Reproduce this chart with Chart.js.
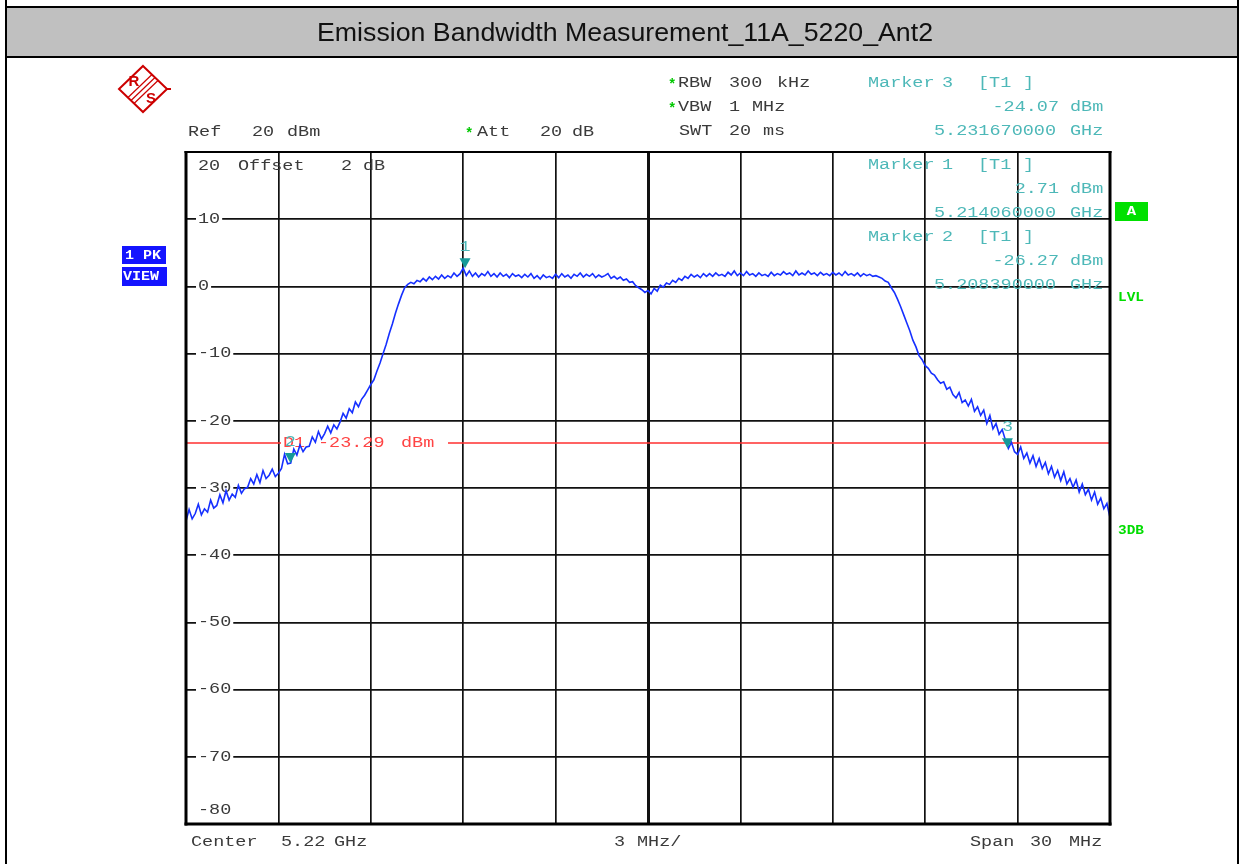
<!DOCTYPE html>
<html>
<head>
<meta charset="utf-8">
<script src="https://cdn.jsdelivr.net/npm/chart.js@4.4.1/dist/chart.umd.min.js"></script>
<style>
html,body{margin:0;padding:0;background:#fff;}
canvas{display:block;}
</style>
</head>
<body>
<canvas id="c" width="1244" height="864"></canvas>
<script>
// ---------------- data ----------------
const TITLE = 'Emission Bandwidth Measurement_11A_5220_Ant2';
const CENTER_GHZ = 5.22;
const SPAN_MHZ = 30;
const SWEEP_START_MHZ = -15;   // offset from centre
const SWEEP_STEP_MHZ = 0.1;

// trace level (dBm) for each sweep point (1 row = 1 MHz)
const traceLevels = [
 -34.9,-33.2,-34.6,-33.8,-32.4,-34.0,-33.1,-33.6,-31.8,-33.0,
 -32.6,-31.0,-32.2,-30.4,-31.8,-30.9,-31.4,-29.6,-30.8,-30.1,
 -29.9,-28.6,-29.4,-28.0,-29.2,-27.4,-28.6,-28.1,-27.2,-28.3,
 -27.8,-27.1,-25.0,-26.4,-26.3,-24.2,-25.1,-23.6,-24.6,-23.9,
 -23.8,-22.4,-23.2,-21.6,-22.7,-21.9,-20.8,-21.8,-20.6,-21.2,
 -20.2,-18.9,-19.6,-18.2,-18.8,-17.2,-17.9,-16.8,-16.2,-15.4,
 -14.6,-13.9,-12.6,-11.4,-10.0,-8.6,-7.0,-5.6,-4.0,-2.6,
 -1.3,-0.2,0.3,0.6,0.4,0.9,0.7,1.2,0.8,1.4,
 1.0,1.5,1.1,1.7,1.2,1.6,1.3,2.0,1.5,1.9,
 2.71,1.6,2.3,1.5,2.0,1.4,1.9,1.6,2.2,1.5,
 1.9,1.4,2.0,1.5,1.8,1.3,1.9,1.5,1.7,1.3,
 1.8,1.4,1.9,1.2,1.6,1.1,1.7,1.3,1.5,1.2,
 1.8,1.3,1.9,1.4,1.7,1.2,1.8,1.5,2.0,1.4,
 1.8,1.5,1.9,1.3,1.7,1.4,1.6,1.9,1.2,1.5,
 1.1,1.4,0.9,1.1,0.6,0.7,0.1,-0.2,-0.5,-0.9,
 -0.6,-1.1,-0.3,-0.7,0.2,-0.1,0.5,0.3,0.9,0.6,
 1.2,0.9,1.5,1.2,1.8,1.4,1.7,1.3,1.9,1.5,
 1.9,1.5,2.0,1.6,1.8,1.5,2.1,1.7,2.3,1.6,
 2.0,1.6,2.2,1.7,1.9,1.5,2.0,1.6,1.8,1.5,
 2.1,1.6,1.9,1.7,2.2,1.8,2.0,1.6,2.3,1.7,
 2.0,1.7,2.3,1.8,2.0,1.6,2.1,1.7,1.9,1.6,
 2.1,1.7,2.0,1.6,2.2,1.7,1.9,1.6,2.0,1.5,
 1.9,1.6,1.8,1.5,1.6,1.4,1.2,0.8,0.6,-0.2,
 -0.9,-1.9,-3.0,-4.2,-5.4,-6.6,-8.0,-9.0,-10.3,-10.9,
 -11.8,-12.2,-12.9,-13.2,-13.9,-14.4,-14.2,-15.3,-15.0,-16.1,
 -16.6,-15.8,-17.3,-16.9,-17.8,-16.8,-18.6,-17.9,-19.2,-18.4,
 -20.4,-19.2,-21.2,-20.4,-22.0,-21.3,-22.8,-24.1,-23.2,-24.6,
 -25.0,-23.9,-25.6,-24.8,-26.3,-25.2,-26.8,-25.6,-27.1,-26.2,
 -27.9,-26.8,-28.4,-27.4,-28.9,-27.6,-29.4,-28.6,-29.9,-28.8,
 -30.6,-29.4,-31.0,-30.2,-31.8,-30.6,-32.4,-31.5,-33.1,-32.3,
 -34.4
];

const xTickValues = [-15,-12,-9,-6,-3,0,3,6,9,12,15];
const yTickValues = [20,10,0,-10,-20,-30,-40,-50,-60,-70,-80];
const yLabelValues = [10,0,-10,-20,-30,-40,-50,-60,-70,-80];
const yTickLabels = ['10','0','-10','-20','-30','-40','-50','-60','-70','-80'];

const markerNames  = ['1','2','3'];
const markerFreqGHz = [5.214060000, 5.208390000, 5.231670000];
const markerLevels  = [2.71, -26.27, -24.07];
const displayLineLevel = -23.29;

// ---------------- drawing helpers ----------------
const MONO = '14px "Liberation Mono", "DejaVu Sans Mono", monospace';
const SX = 1.32;
const GREY = '#3a3a3a';
const TEAL = '#4db8b8';
const TEAL_DARK = '#159a9a';
const GREEN = '#00dd00';

function txt(ctx, s, x, y, color, o) {
  o = o || {};
  ctx.save();
  ctx.font = o.font || MONO;
  ctx.fillStyle = color;
  ctx.textBaseline = 'middle';
  ctx.textAlign = o.align || 'left';
  ctx.translate(x, y);
  ctx.scale(o.sx || SX, 1);
  ctx.fillText(s, 0, 0);
  ctx.restore();
}

function star(ctx, x, y) {
  txt(ctx, '*', x, y + 2, '#00c800', {font: 'bold 14px "Liberation Mono"', sx: 1});
}

function markerBlock(ctx, i, y0) {
  txt(ctx, 'Marker', 868, y0, TEAL);
  txt(ctx, markerNames[i], 942, y0, TEAL);
  txt(ctx, '[T1', 978, y0, TEAL);
  txt(ctx, ']', 1023, y0, TEAL);
  txt(ctx, markerLevels[i].toFixed(2), 1059, y0 + 24, TEAL, {align: 'right'});
  txt(ctx, 'dBm', 1070, y0 + 24, TEAL);
  txt(ctx, markerFreqGHz[i].toFixed(9), 1056, y0 + 48, TEAL, {align: 'right'});
  txt(ctx, 'GHz', 1070, y0 + 48, TEAL);
}

const annot = {
  id: 'annot',
  beforeDraw(chart) {
    const ctx = chart.ctx;
    ctx.save();
    ctx.fillStyle = '#fff';
    ctx.fillRect(0, 0, chart.width, chart.height);
    // outer frame and title bar
    ctx.fillStyle = '#000';
    ctx.fillRect(5, 0, 2, 864);
    ctx.fillRect(1237, 0, 2, 864);
    ctx.fillRect(5, 6, 1234, 2);
    ctx.fillStyle = '#c0c0c0';
    ctx.fillRect(7, 8, 1230, 48);
    ctx.fillStyle = '#000';
    ctx.fillRect(5, 56, 1234, 2);
    // title
    ctx.font = '25px "Liberation Sans", Arial, sans-serif';
    const w = ctx.measureText(TITLE).width;
    ctx.fillStyle = '#111';
    ctx.textBaseline = 'middle';
    ctx.textAlign = 'center';
    ctx.save();
    ctx.translate(625, 34);
    ctx.scale(616 / w, 1);
    ctx.fillText(TITLE, 0, 0);
    ctx.restore();

    // R&S logo
    ctx.strokeStyle = '#cc0000';
    ctx.fillStyle = '#cc0000';
    ctx.lineWidth = 2;
    const cx = 143, cy = 89, hw = 24, hh = 23;
    ctx.beginPath();
    ctx.moveTo(cx, cy - hh); ctx.lineTo(cx + hw, cy); ctx.lineTo(cx, cy + hh); ctx.lineTo(cx - hw, cy); ctx.closePath();
    ctx.stroke();
    ctx.beginPath(); ctx.moveTo(cx + hw, cy); ctx.lineTo(cx + hw + 4, cy); ctx.stroke();
    ctx.lineWidth = 1.2;
    for (const d of [-3, 0, 3]) {
      ctx.beginPath();
      ctx.moveTo(cx + hw / 2 + d, cy - hh / 2 + d);
      ctx.lineTo(cx - hw / 2 + d, cy + hh / 2 + d);
      ctx.stroke();
    }
    ctx.font = 'bold 15px "Liberation Sans", Arial';
    ctx.textAlign = 'center';
    ctx.fillText('R', cx - 9, cy - 7);
    ctx.fillText('S', cx + 8, cy + 10);

    // header texts
    txt(ctx, 'Ref', 188, 132, GREY);
    txt(ctx, '20', 252, 132, GREY);
    txt(ctx, 'dBm', 287, 132, GREY);
    star(ctx, 465, 132);
    txt(ctx, 'Att', 477, 132, GREY);
    txt(ctx, '20', 540, 132, GREY);
    txt(ctx, 'dB', 572, 132, GREY);
    star(ctx, 668, 83);
    txt(ctx, 'RBW', 678, 83, GREY);
    txt(ctx, '300', 729, 83, GREY);
    txt(ctx, 'kHz', 777, 83, GREY);
    star(ctx, 668, 107);
    txt(ctx, 'VBW', 678, 107, GREY);
    txt(ctx, '1', 729, 107, GREY);
    txt(ctx, 'MHz', 752, 107, GREY);
    txt(ctx, 'SWT', 679, 131, GREY);
    txt(ctx, '20', 729, 131, GREY);
    txt(ctx, 'ms', 763, 131, GREY);
    markerBlock(ctx, 2, 83);

    // bottom texts
    txt(ctx, 'Center', 191, 842, GREY);
    txt(ctx, '5.22', 281, 842, GREY);
    txt(ctx, 'GHz', 334, 842, GREY);
    txt(ctx, '3', 614, 842, GREY);
    txt(ctx, 'MHz/', 637, 842, GREY);
    txt(ctx, 'Span', 970, 842, GREY);
    txt(ctx, '30', 1030, 842, GREY);
    txt(ctx, 'MHz', 1069, 842, GREY);

    // left info boxes
    ctx.fillStyle = '#1414ff';
    ctx.fillRect(122, 246, 44, 18);
    ctx.fillRect(122, 267, 45, 19);
    txt(ctx, '1 PK', 125, 255.5, '#fff', {font: 'bold 12px "Liberation Mono"', sx: 1.25});
    txt(ctx, 'VIEW', 123, 277, '#fff', {font: 'bold 12px "Liberation Mono"', sx: 1.25});
    // right side labels
    ctx.fillStyle = '#00e000';
    ctx.fillRect(1115, 202, 33, 19);
    txt(ctx, 'A', 1131.5, 212, '#fff', {font: 'bold 12px "Liberation Mono"', sx: 1.3, align: 'center'});
    txt(ctx, 'LVL', 1118, 298, GREEN, {font: 'bold 12px "Liberation Mono"', sx: 1.2});
    txt(ctx, '3DB', 1118, 531, GREEN, {font: 'bold 12px "Liberation Mono"', sx: 1.2});
    ctx.restore();
  },
  beforeDatasetsDraw(chart) {
    const ctx = chart.ctx;
    const y = chart.scales.y;
    const left = chart.chartArea.left;
    ctx.save();
    yLabelValues.forEach((v, i) => {
      let py = y.getPixelForValue(v);
      const s = yTickLabels[i];
      const wLab = s.length * 8.4 * SX;
      if (v === -80) py -= 14;
      else {
        ctx.fillStyle = '#fff';
        ctx.fillRect(left + 10, py - 3, wLab + 4, 6);
      }
      txt(ctx, s, left + 12, py, GREY);
    });
    txt(ctx, '20', 198, 166, GREY);
    txt(ctx, 'Offset', 238, 166, GREY);
    txt(ctx, '2', 341, 166, GREY);
    txt(ctx, 'dB', 363, 166, GREY);
    // display line D1
    const dy = y.getPixelForValue(displayLineLevel);
    ctx.strokeStyle = '#ff3030';
    ctx.lineWidth = 1.5;
    ctx.beginPath();
    ctx.moveTo(left, dy); ctx.lineTo(281, dy);
    ctx.moveTo(448, dy); ctx.lineTo(chart.chartArea.right, dy);
    ctx.stroke();
    txt(ctx, 'D1', 283, dy, '#ff4444');
    txt(ctx, '-23.29', 318, dy, '#ff4444');
    txt(ctx, 'dBm', 401, dy, '#ff4444');
    ctx.restore();
  },
  afterDraw(chart) {
    const ctx = chart.ctx;
    const ca = chart.chartArea;
    const x = chart.scales.x, y = chart.scales.y;
    ctx.save();
    markerNames.forEach((n, i) => {
      const px = x.getPixelForValue((markerFreqGHz[i] - CENTER_GHZ) * 1000);
      const py = y.getPixelForValue(markerLevels[i]);
      ctx.fillStyle = TEAL_DARK;
      ctx.beginPath();
      ctx.moveTo(px, py); ctx.lineTo(px - 5.5, py - 10); ctx.lineTo(px + 5.5, py - 10); ctx.closePath();
      ctx.fill();
      txt(ctx, n, px, py - 21, TEAL, {align: 'center'});
    });
    markerBlock(ctx, 0, 165);
    markerBlock(ctx, 1, 237);
    // plot frame
    ctx.fillStyle = '#000';
    ctx.fillRect(ca.left - 1.5, ca.top - 1, 3, ca.bottom - ca.top + 2.5);
    ctx.fillRect(ca.right - 1.5, ca.top - 1, 3, ca.bottom - ca.top + 2.5);
    ctx.fillRect(ca.left - 1.5, ca.top - 1, ca.right - ca.left + 3, 2);
    ctx.fillRect(ca.left - 1.5, ca.bottom - 1.5, ca.right - ca.left + 3, 3);
    ctx.restore();
  }
};

const points = traceLevels.map((v, i) => ({x: SWEEP_START_MHZ + i * SWEEP_STEP_MHZ, y: v}));

new Chart(document.getElementById('c'), {
  type: 'line',
  data: {datasets: [{
    data: points,
    borderColor: '#1630ff',
    borderWidth: 1.6,
    pointRadius: 0,
    tension: 0,
    fill: false
  }]},
  options: {
    responsive: false,
    animation: false,
    devicePixelRatio: 1,
    layout: {padding: {left: 186, top: 152, right: 134, bottom: 40}},
    plugins: {legend: {display: false}, tooltip: {enabled: false}, title: {display: false}},
    scales: {
      x: {
        type: 'linear', min: SWEEP_START_MHZ, max: SWEEP_START_MHZ + SPAN_MHZ,
        afterBuildTicks: a => { a.ticks = xTickValues.map(v => ({value: v})); },
        ticks: {display: false},
        border: {display: false},
        grid: {drawTicks: false, color: '#111',
               lineWidth: c => (c.tick && c.tick.value === 0) ? 3 : 1.7}
      },
      y: {
        type: 'linear', min: -80, max: 20,
        afterBuildTicks: a => { a.ticks = yTickValues.map(v => ({value: v})); },
        ticks: {display: false},
        border: {display: false},
        grid: {drawTicks: false, color: '#111', lineWidth: 1.7}
      }
    }
  },
  plugins: [annot]
});
</script>
</body>
</html>
